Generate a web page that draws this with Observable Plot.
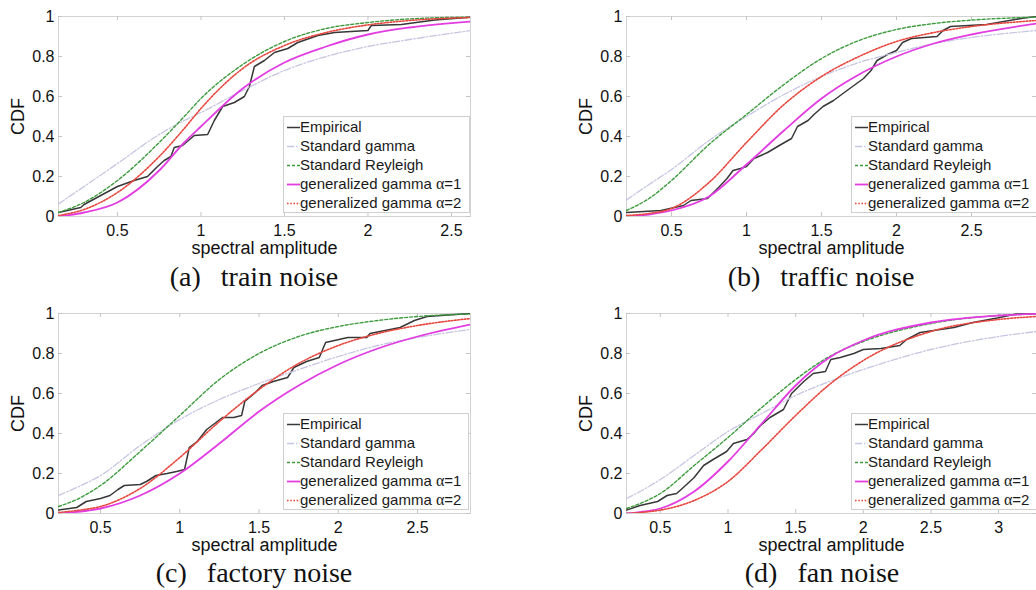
<!DOCTYPE html>
<html>
<head>
<meta charset="utf-8">
<script src="https://cdn.jsdelivr.net/npm/d3@7"></script>
<script src="https://cdn.jsdelivr.net/npm/@observablehq/plot@0.6"></script>
<style>
  body { margin: 0; background: #fff; }
  #wrap { position: relative; width: 1036px; height: 590px; overflow: hidden; background: #fff; }
  .panel { position: absolute; }
  .cap { position: absolute; font-family: "Liberation Serif", "Times New Roman", serif; font-size: 28px; line-height: 28px; color: #111; white-space: pre; transform: translateX(-50%); }
  .legend { position: absolute; background: #fff; border: 1px solid #cfcfcf; box-sizing: border-box; font-family: "Liberation Sans", Arial, sans-serif; font-size: 15px; color: #1a1a1a; }
  .legrow { position: absolute; left: 0; height: 18px; line-height: 18px; white-space: nowrap; }
  .legrow svg { position: absolute; left: 3px; top: 0; }
  .legrow span { position: absolute; left: 16px; top: 0; }
</style>
</head>
<body>
<div id="wrap"></div>
<script>
// ---------- data ----------
const seriesNames = ["Empirical", "Standard gamma", "Standard Reyleigh", "generalized gamma α=1", "generalized gamma α=2"];
const yTicks = [0, 0.2, 0.4, 0.6, 0.8, 1];

// (a) train noise
const domainA = [0.147, 2.614];
const xTicksA = [0.5, 1, 1.5, 2, 2.5];
const gridA  = [0.147, 0.3, 0.5, 0.75, 0.9, 1.0, 1.25, 1.5, 1.75, 2.0, 2.25, 2.614];
const gammaA = [0.063, 0.15, 0.265, 0.41, 0.48, 0.52, 0.63, 0.73, 0.8, 0.85, 0.885, 0.93];
const rayA   = [0.02, 0.07, 0.18, 0.37, 0.5, 0.59, 0.76, 0.875, 0.94, 0.97, 0.988, 0.997];
const gg1A   = [0.0, 0.02, 0.07, 0.23, 0.37, 0.45, 0.64, 0.77, 0.85, 0.91, 0.945, 0.975];
const gg2A   = [0.005, 0.035, 0.12, 0.3, 0.44, 0.54, 0.74, 0.855, 0.92, 0.958, 0.98, 0.995];
const empXA  = [0.147, 0.28, 0.3, 0.5, 0.6, 0.68, 0.74, 0.78, 0.82, 0.84, 0.89, 0.96, 1.04, 1.08, 1.13, 1.2, 1.26, 1.29, 1.32, 1.38, 1.44, 1.52, 1.58, 1.7, 1.8, 2.0, 2.02, 2.2, 2.4, 2.614];
const empYA  = [0.02, 0.045, 0.06, 0.15, 0.18, 0.2, 0.25, 0.28, 0.3, 0.345, 0.355, 0.405, 0.41, 0.48, 0.55, 0.57, 0.6, 0.65, 0.75, 0.78, 0.82, 0.84, 0.87, 0.905, 0.92, 0.93, 0.955, 0.96, 0.983, 0.997];

// (b) traffic noise
const domainB = [0.2, 2.933];
const xTicksB = [0.5, 1, 1.5, 2, 2.5];
const gridB  = [0.2, 0.35, 0.5, 0.75, 1.0, 1.25, 1.5, 1.75, 2.0, 2.25, 2.5, 2.933];
const gammaB = [0.083, 0.16, 0.235, 0.38, 0.5, 0.61, 0.7, 0.77, 0.82, 0.865, 0.895, 0.93];
const rayB   = [0.03, 0.09, 0.18, 0.36, 0.51, 0.66, 0.79, 0.88, 0.935, 0.965, 0.982, 0.997];
const gg1B   = [0.0, 0.01, 0.03, 0.1, 0.26, 0.43, 0.59, 0.71, 0.8, 0.865, 0.91, 0.965];
const gg2B   = [0.005, 0.015, 0.04, 0.17, 0.37, 0.56, 0.7, 0.8, 0.875, 0.92, 0.95, 0.98];
const empXB  = [0.2, 0.43, 0.58, 0.63, 0.74, 0.78, 0.82, 0.87, 0.91, 0.96, 1.0, 1.05, 1.14, 1.23, 1.3, 1.34, 1.41, 1.45, 1.51, 1.58, 1.67, 1.78, 1.83, 1.87, 1.94, 2.0, 2.04, 2.1, 2.27, 2.31, 2.36, 2.6, 2.83, 2.933];
const empYB  = [0.02, 0.03, 0.055, 0.08, 0.09, 0.12, 0.15, 0.19, 0.23, 0.24, 0.25, 0.29, 0.32, 0.36, 0.39, 0.45, 0.48, 0.51, 0.55, 0.58, 0.63, 0.69, 0.73, 0.78, 0.81, 0.83, 0.87, 0.89, 0.9, 0.93, 0.95, 0.96, 0.99, 1.0];

// (c) factory noise
const domainC = [0.235, 2.834];
const xTicksC = [0.5, 1, 1.5, 2, 2.5];
const gridC  = [0.235, 0.35, 0.5, 0.75, 1.0, 1.25, 1.5, 1.75, 2.0, 2.25, 2.5, 2.834];
const gammaC = [0.09, 0.13, 0.19, 0.34, 0.47, 0.57, 0.65, 0.72, 0.785, 0.84, 0.88, 0.92];
const rayC   = [0.035, 0.07, 0.14, 0.31, 0.49, 0.67, 0.8, 0.885, 0.935, 0.965, 0.985, 0.998];
const gg1C   = [0.0, 0.008, 0.025, 0.09, 0.2, 0.35, 0.51, 0.64, 0.745, 0.825, 0.885, 0.945];
const gg2C   = [0.005, 0.015, 0.035, 0.125, 0.28, 0.46, 0.62, 0.75, 0.84, 0.9, 0.94, 0.975];
const empXC  = [0.235, 0.35, 0.41, 0.5, 0.56, 0.61, 0.65, 0.75, 0.79, 0.85, 0.92, 0.98, 1.03, 1.06, 1.11, 1.14, 1.17, 1.27, 1.34, 1.39, 1.41, 1.47, 1.52, 1.59, 1.68, 1.72, 1.8, 1.88, 1.92, 2.06, 2.18, 2.2, 2.39, 2.48, 2.56, 2.834];
const empYC  = [0.017, 0.03, 0.06, 0.075, 0.09, 0.12, 0.14, 0.145, 0.16, 0.19, 0.2, 0.21, 0.22, 0.33, 0.36, 0.39, 0.42, 0.48, 0.48, 0.49, 0.56, 0.6, 0.64, 0.66, 0.68, 0.73, 0.76, 0.78, 0.855, 0.88, 0.88, 0.9, 0.93, 0.965, 0.985, 1.0];

// (d) fan noise
const domainD = [0.25, 3.28];
const xTicksD = [0.5, 1, 1.5, 2, 2.5, 3];
const gridD  = [0.25, 0.35, 0.5, 0.75, 1.0, 1.25, 1.5, 1.75, 2.0, 2.5, 3.0, 3.28];
const gammaD = [0.075, 0.11, 0.17, 0.29, 0.41, 0.5, 0.59, 0.66, 0.72, 0.82, 0.885, 0.91];
const rayD   = [0.025, 0.05, 0.1, 0.24, 0.38, 0.53, 0.67, 0.785, 0.86, 0.95, 0.99, 0.997];
const gg1D   = [0.0, 0.007, 0.025, 0.11, 0.26, 0.45, 0.64, 0.78, 0.865, 0.955, 0.99, 0.998];
const gg2D   = [0.0, 0.005, 0.017, 0.065, 0.16, 0.32, 0.49, 0.645, 0.765, 0.91, 0.97, 0.985];
const empXD  = [0.25, 0.35, 0.48, 0.55, 0.62, 0.67, 0.75, 0.82, 0.89, 0.99, 1.04, 1.14, 1.19, 1.24, 1.31, 1.41, 1.47, 1.56, 1.63, 1.72, 1.76, 1.83, 1.93, 2.0, 2.13, 2.27, 2.32, 2.42, 2.52, 2.67, 2.81, 2.99, 3.13, 3.28];
const empYD  = [0.017, 0.04, 0.06, 0.09, 0.1, 0.13, 0.18, 0.24, 0.27, 0.31, 0.35, 0.37, 0.4, 0.44, 0.48, 0.52, 0.6, 0.66, 0.7, 0.71, 0.77, 0.78, 0.8, 0.82, 0.825, 0.84, 0.87, 0.905, 0.915, 0.93, 0.955, 0.977, 0.997, 1.0];

const captions = [["(a)", "train noise"], ["(b)", "traffic noise"], ["(c)", "factory noise"], ["(d)", "fan noise"]];

// ---------- styles ----------
const lineStyles = {
  "Empirical":               {stroke: "#383838", strokeWidth: 1.5},
  "Standard gamma":          {stroke: "#c6c6e2", strokeWidth: 1.3, strokeDasharray: "7,2,1.5,2"},
  "Standard Reyleigh":       {stroke: "#3e9a3e", strokeWidth: 1.4, strokeDasharray: "3,2"},
  "generalized gamma α=1":   {stroke: "#e23ce2", strokeWidth: 1.8},
  "generalized gamma α=2":   {stroke: "#e8463e", strokeWidth: 1.6, strokeDasharray: "1.6,1.6"}
};

const panels = [
  {left: 0,   top: 0,   mr: 10, domain: domainA, ticks: xTicksA, grid: gridA, curves: [gammaA, rayA, gg1A, gg2A], empX: empXA, empY: empYA, cap: captions[0], capX: 254, capY: 263, leg: [283, 116, 187, 97]},
  {left: 568, top: 0,   mr: 0,  domain: domainB, ticks: xTicksB, grid: gridB, curves: [gammaB, rayB, gg1B, gg2B], empX: empXB, empY: empYB, cap: captions[1], capX: 821, capY: 263, leg: [851, 116, 190, 97]},
  {left: 0,   top: 297, mr: 10, domain: domainC, ticks: xTicksC, grid: gridC, curves: [gammaC, rayC, gg1C, gg2C], empX: empXC, empY: empYC, cap: captions[2], capX: 254, capY: 559, leg: [283, 413, 186, 97]},
  {left: 568, top: 297, mr: 0,  domain: domainD, ticks: xTicksD, grid: gridD, curves: [gammaD, rayD, gg1D, gg2D], empX: empXD, empY: empYD, cap: captions[3], capX: 822, capY: 559, leg: [851, 413, 190, 97]}
];

const wrap = document.getElementById("wrap");
const ML = 58, MT = 16, MB = 44, FH = 200;
const fmt = d => String(d);

panels.forEach(p => {
  const width = p.left === 0 ? 480 : 468;
  const FW = width - ML - p.mr;
  const emp = p.empX.map((x, i) => ({x, y: p.empY[i]}));
  const curveData = p.curves.map(arr => p.grid.map((x, i) => ({x, y: arr[i]})));

  const marks = [
    Plot.frame({stroke: "#d2d2d2", strokeWidth: 1}),
    Plot.tickX(p.ticks, {x: d => d, insetTop: FH - 4, stroke: "#c4c4c4"}),
    Plot.tickX(p.ticks, {x: d => d, insetBottom: FH - 4, stroke: "#c4c4c4"}),
    Plot.tickY(yTicks, {y: d => d, insetRight: FW - 4, stroke: "#c4c4c4"}),
    Plot.tickY(yTicks, {y: d => d, insetLeft: FW - 4, stroke: "#c4c4c4"}),
    Plot.line(emp, {x: "x", y: "y", clip: true, ...lineStyles[seriesNames[0]]}),
    ...curveData.map((data, k) => Plot.line(data, {x: "x", y: "y", curve: "monotone-x", clip: true, ...lineStyles[seriesNames[k + 1]]})),
    Plot.text(["spectral amplitude"], {text: d => d, frameAnchor: "bottom", dy: 32, lineAnchor: "middle", textAnchor: "middle", fontSize: 18, fill: "#111"}),
    Plot.text(["CDF"], {text: d => d, frameAnchor: "left", dx: -40, rotate: -90, lineAnchor: "middle", textAnchor: "middle", fontSize: 18, fill: "#111"})
  ];

  const chart = Plot.plot({
    width, height: MT + FH + MB,
    marginLeft: ML, marginRight: p.mr, marginTop: MT, marginBottom: MB,
    style: {fontFamily: "Liberation Sans, Arial, sans-serif", fontSize: "16px", color: "#111", background: "transparent", overflow: "visible"},
    x: {domain: p.domain, ticks: p.ticks, tickSize: 0, tickPadding: 8, tickFormat: fmt, label: null},
    y: {domain: [0, 1], ticks: yTicks, tickSize: 0, tickPadding: 4, tickFormat: fmt, label: null},
    marks
  });
  chart.classList.add("panel");
  chart.style.left = p.left + "px";
  chart.style.top = p.top + "px";
  wrap.appendChild(chart);

  // legend
  const [lx, ly, lw, lh] = p.leg;
  const leg = document.createElement("div");
  leg.className = "legend";
  Object.assign(leg.style, {left: lx + "px", top: ly + "px", width: lw + "px", height: lh + "px"});
  seriesNames.forEach((name, i) => {
    const s = lineStyles[name];
    const row = document.createElement("div");
    row.className = "legrow";
    row.style.top = (1 + i * 19) + "px";
    row.innerHTML = `<svg width="14" height="18"><line x1="0" x2="13" y1="9.5" y2="9.5" stroke="${s.stroke}" stroke-width="${s.strokeWidth}" ${s.strokeDasharray ? `stroke-dasharray="${s.strokeDasharray}"` : ""}/></svg><span>${name.replace("α", '<span style="position:static;font-family:\'Liberation Serif\',serif;font-size:16px">α</span>')}</span>`;
    leg.appendChild(row);
  });
  wrap.appendChild(leg);

  // caption
  const cap = document.createElement("div");
  cap.className = "cap";
  cap.style.left = p.capX + "px";
  cap.style.top = p.capY + "px";
  cap.innerHTML = `${p.cap[0]}<span style="display:inline-block;width:20px"></span>${p.cap[1]}`;
  wrap.appendChild(cap);
});
</script>
</body>
</html>
